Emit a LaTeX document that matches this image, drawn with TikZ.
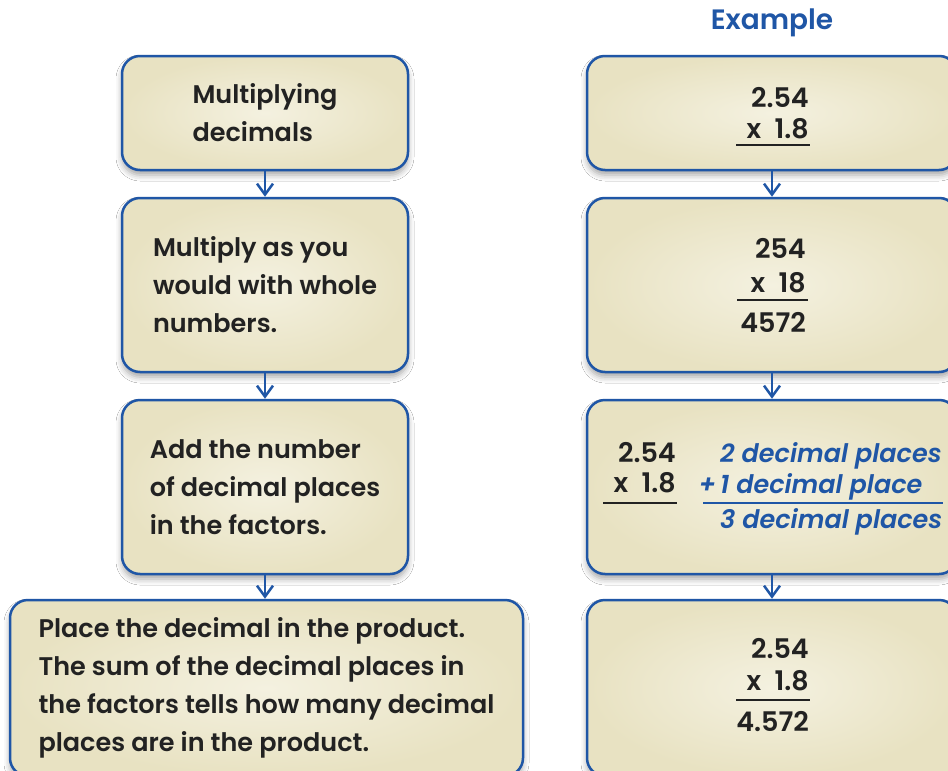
\documentclass[tikz,border=0pt]{standalone}
\usepackage{fontspec}
\setmainfont{Poppins}[BoldFont={Poppins SemiBold},BoldItalicFont={Poppins SemiBold Italic}]
\usetikzlibrary{arrows.meta,shadows.blur}
\definecolor{bblue}{HTML}{1F56A6}
\definecolor{fillin}{HTML}{F4F1E0}
\definecolor{fillout}{HTML}{E8E2C2}
\definecolor{ink}{HTML}{222222}
\begin{document}
\begin{tikzpicture}[x=1pt,y=-1pt,
 box/.style={draw=bblue, line width=2.5pt, rounded corners=18pt, inner color=fillin, outer color=fillout,
   blur shadow={shadow xshift=0pt, shadow yshift=-5pt, shadow blur radius=6pt, shadow opacity=35},
   align=left, font=\fontsize{25.5}{38}\selectfont\bfseries, text=ink, inner sep=0pt},
 conn/.style={draw=bblue, line width=2.5pt, -{Straight Barb[length=11pt,width=16pt,line width=2.5pt]}},
 num/.style={anchor=base east, font=\fontsize{27}{32}\selectfont\bfseries, text=ink, inner sep=0pt},
 blu/.style={anchor=base west, font=\fontsize{25.5}{32}\selectfont\bfseries\itshape, text=bblue, inner sep=0pt},
 rulek/.style={line width=2.5pt, draw=ink},
 ruleb/.style={line width=2.5pt, draw=bblue}
]
\useasboundingbox (0,0) rectangle (948,771);
\clip (0,0) rectangle (948,771);
\fill[white] (0,0) rectangle (948,771);

\node[font=\fontsize{28}{36}\selectfont\bfseries, text=bblue] (ex) at (772,23) {Example};

% left column
\node[box, minimum width=286pt, minimum height=114pt] (L1) at (265,113) {Multiplying\\decimals};
\node[box, minimum width=286pt, minimum height=174pt] (L2) at (265,285) {Multiply as you\\would with whole\\numbers.};
\node[box, minimum width=286pt, minimum height=174pt] (L3) at (265,487) {Add the number\\of decimal places\\in the factors.};
\node[box, minimum width=513pt, minimum height=176pt] (L4) at (266.5,688) {Place the decimal in the product.\\The sum of the decimal places in\\the factors tells how many decimal\\places are in the product.};

% right column
\node[box, minimum width=370pt, minimum height=114pt] (R1) at (772,113) {};
\node[box, minimum width=370pt, minimum height=174pt] (R2) at (772,285) {};
\node[box, minimum width=370pt, minimum height=174pt] (R3) at (772,487) {};
\node[box, minimum width=370pt, minimum height=176pt] (R4) at (772,688) {};

% connectors
\draw[conn] (L1) -- (L2);
\draw[conn] (L2) -- (L3);
\draw[conn] (L3) -- (L4.north -| L3.south);
\draw[conn] (R1) -- (R2);
\draw[conn] (R2) -- (R3);
\draw[conn] (R3) -- (R4);

% R1
\node[num] (r1a) at (809,107) {2.54};
\node[num] (r1b) at (809,138) {x\enspace1.8};
\draw[rulek] (736,145) -- (810,145);

% R2
\node[num] (r2a) at (806,258) {254};
\node[num] (r2b) at (806,292) {x\enspace18};
\draw[rulek] (737,300) -- (808,300);
\node[num] (r2c) at (806,332) {4572};

% R3
\node[num] (r3a) at (676,462) {2.54};
\node[num] (r3b) at (676,492) {x\enspace1.8};
\draw[rulek] (603,503) -- (677,503);
\node[blu] (r3c) at (720,462) {2 decimal places};
\node[blu] (r3d) at (720,493) {\llap{+\,}1 decimal place};
\draw[ruleb] (703,503) -- (943,503);
\node[blu] (r3e) at (720,528) {3 decimal places};

% R4
\node[num] (r4a) at (809,658) {2.54};
\node[num] (r4b) at (809,690) {x\enspace1.8};
\draw[rulek] (736,700) -- (810,700);
\node[num] (r4c) at (809,731) {4.572};
\end{tikzpicture}
\end{document}
